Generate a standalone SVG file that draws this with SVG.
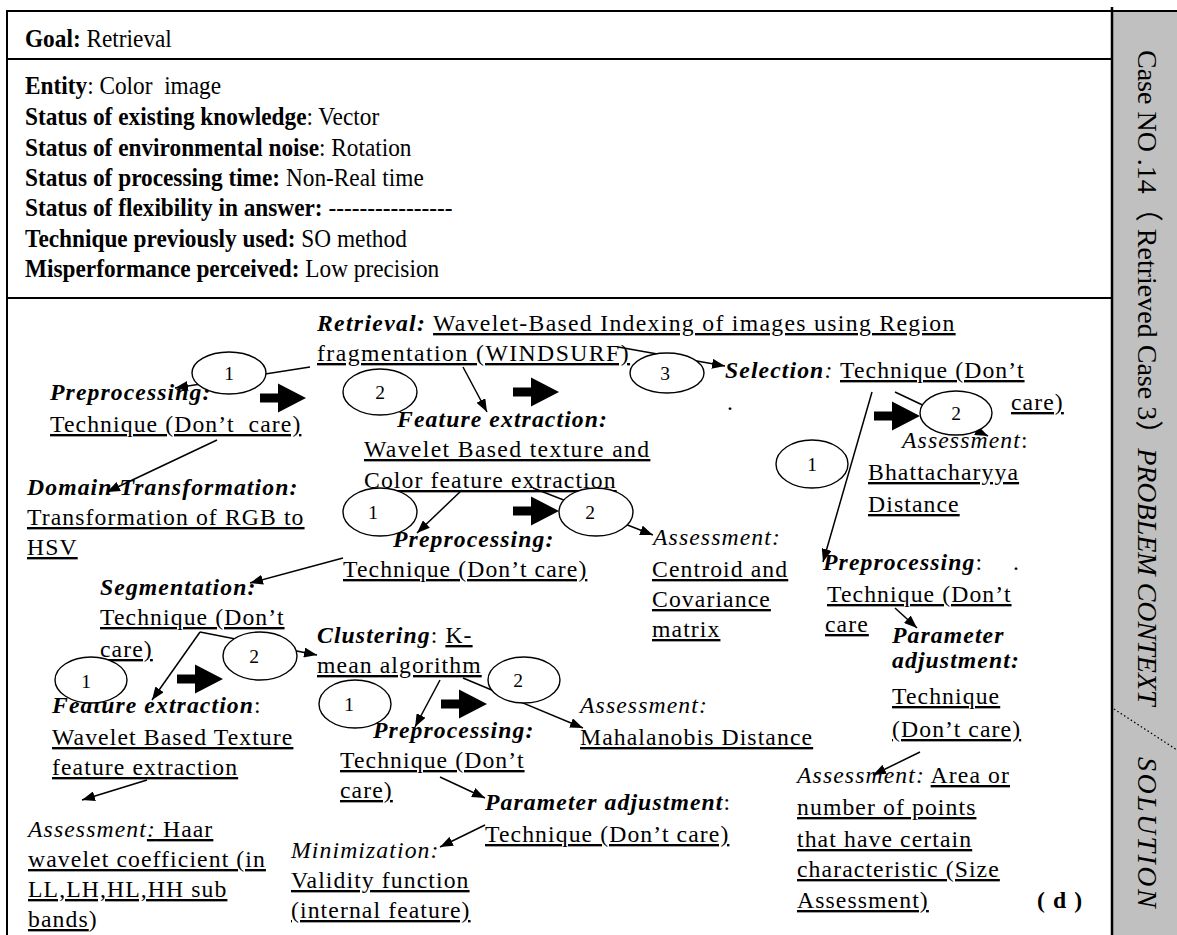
<svg xmlns="http://www.w3.org/2000/svg" xmlns:xlink="http://www.w3.org/1999/xlink" width="1177" height="935" viewBox="0 0 1177 935">
<style>
text{font-family:"Liberation Serif","Times New Roman",serif;fill:#000}
.t{font-size:23.7px;letter-spacing:1.1px}
.top{font-size:23.3px}
.b{font-weight:bold}
.i{font-style:italic}
.bi{font-weight:bold;font-style:italic}
.u{text-decoration:underline}
.n{font-size:19.5px;text-anchor:middle}
.side{font-size:28px;font-family:"Liberation Serif","Noto Sans CJK SC",serif}
.frame{stroke:#000;stroke-width:2;fill:none}
.ell{fill:#fff;stroke:#000;stroke-width:1.4}
.con{stroke:#000;stroke-width:1.5;fill:none;marker-end:url(#ah)}
</style>
<defs>
<marker id="ah" markerUnits="userSpaceOnUse" markerWidth="14" markerHeight="10" refX="13" refY="5" orient="auto"><path d="M0,0 L13,5 L0,10 Z" fill="#000"/></marker>
<path id="blk" d="M-46,-4.5 H-28 V-14.5 L0,0 L-28,14.5 V4.5 H-46 Z" fill="#000"/>
</defs>
<rect width="1177" height="935" fill="#fff"/>
<g id="frame">
<rect x="1113" y="11" width="64" height="924" fill="#c0c0c0"/>
<line class="frame" x1="7" y1="11" x2="1177" y2="11"/>
<line class="frame" x1="7" y1="10" x2="7" y2="935"/>
<line class="frame" x1="7" y1="59" x2="1112" y2="59"/>
<line class="frame" x1="7" y1="298" x2="1112" y2="298"/>
<line x1="1112" y1="7" x2="1112" y2="935" stroke="#000" stroke-width="2.5"/>
<line x1="1114" y1="709" x2="1177" y2="750" stroke="#000" stroke-width="1.3" stroke-dasharray="1.5 2.5"/>
</g>
<g id="side-label">
<text class="side" transform="translate(1138,50) rotate(90)">Case NO .14（ Retrieved Case 3）<tspan class="i">PROBLEM CONTEXT</tspan></text>
<text class="side i" style="letter-spacing:2.4px" transform="translate(1138,757) rotate(90)">SOLUTION</text>
</g>
<g id="problem">
<text class="top" transform="translate(25,47) scale(1,1.1)"><tspan class="b">Goal:</tspan> Retrieval</text>
<text class="top" transform="translate(25,94) scale(1,1.1)"><tspan class="b">Entity</tspan>: Color &#160;image</text>
<text class="top" transform="translate(25,125) scale(1,1.1)"><tspan class="b">Status of existing knowledge</tspan>: Vector</text>
<text class="top" transform="translate(25,156) scale(1,1.1)"><tspan class="b">Status of environmental noise</tspan>: Rotation</text>
<text class="top" transform="translate(25,186) scale(1,1.1)"><tspan class="b">Status of processing time:</tspan> Non-Real time</text>
<text class="top" transform="translate(25,216) scale(1,1.1)"><tspan class="b">Status of flexibility in answer:</tspan> ----------------</text>
<text class="top" transform="translate(25,247) scale(1,1.1)"><tspan class="b">Technique previously used:</tspan> SO method</text>
<text class="top" transform="translate(25,277) scale(1,1.1)"><tspan class="b">Misperformance perceived:</tspan> Low precision</text>
</g>
<g id="connectors">
<line class="con" x1="310" y1="367" x2="175" y2="388"/>
<line class="con" x1="463" y1="367" x2="487" y2="412"/>
<line class="con" x1="618" y1="347" x2="725" y2="366"/>
<line class="con" x1="217" y1="440" x2="107" y2="492"/>
<line class="con" x1="462" y1="490" x2="417" y2="533"/>
<line class="con" x1="533" y1="488" x2="653" y2="535"/>
<line class="con" x1="343" y1="558" x2="250" y2="583"/>
<line class="con" x1="200" y1="632" x2="317" y2="655"/>
<line class="con" x1="200" y1="632" x2="152" y2="700"/>
<line class="con" x1="147" y1="780" x2="82" y2="800"/>
<line class="con" x1="440" y1="680" x2="415" y2="727"/>
<line class="con" x1="463" y1="678" x2="583" y2="728"/>
<line class="con" x1="440" y1="777" x2="485" y2="798"/>
<line class="con" x1="485" y1="825" x2="440" y2="847"/>
<line class="con" x1="872" y1="392" x2="823" y2="562"/>
<line class="con" x1="895" y1="392" x2="988" y2="436"/>
<line class="con" x1="895" y1="608" x2="917" y2="628"/>
<line class="con" x1="920" y1="752" x2="873" y2="775"/>
<use xlink:href="#blk" x="306" y="398"/>
<use xlink:href="#blk" x="559" y="392"/>
<use xlink:href="#blk" x="559" y="511"/>
<use xlink:href="#blk" x="920" y="416"/>
<use xlink:href="#blk" x="223" y="679"/>
<use xlink:href="#blk" x="487" y="704"/>
</g>
<g id="n-retrieval">
<text class="t" x="317" y="331" style="letter-spacing:1.32px"><tspan class="bi">Retrieval:</tspan> <tspan class="u">Wavelet-Based Indexing of images using Region</tspan></text>
<text class="t u" x="317" y="361" style="letter-spacing:1.45px">fragmentation (WINDSURF)</text>
</g>
<g id="n-preprocessing-1">
<text class="t bi" x="50" y="400">Preprocessing:</text>
<text class="t u" x="50" y="432">Technique (Don’t &#160;care)</text>
</g>
<g id="n-domain">
<text class="t bi" x="27" y="495">Domain Transformation:</text>
<text class="t u" x="27" y="525">Transformation of RGB to</text>
<text class="t u" x="27" y="555">HSV</text>
</g>
<g id="n-feature-1">
<text class="t bi" x="397" y="427">Feature extraction:</text>
<text class="t u" x="364" y="457" style="letter-spacing:1.35px">Wavelet Based texture and</text>
<text class="t u" x="364" y="488">Color feature extraction</text>
</g>
<g id="n-selection">
<text class="t" x="725" y="378"><tspan class="bi">Selection</tspan><tspan class="i">:</tspan> <tspan class="u" x="840">Technique (Don’t</tspan></text>
<text class="t u" x="1011" y="410">care)</text>
<text class="t" x="727" y="410">.</text>
</g>
<g id="n-assessment-bh">
<text class="t" x="902" y="448"><tspan class="i">Assessment</tspan>:</text>
<text class="t u" x="868" y="480">Bhattacharyya</text>
<text class="t u" x="868" y="512">Distance</text>
</g>
<g id="n-preprocessing-2">
<text class="t bi" x="393" y="547">Preprocessing:</text>
<text class="t u" x="343" y="577">Technique (Don’t care)</text>
</g>
<g id="n-assessment-cc">
<text class="t i" x="653" y="545">Assessment:</text>
<text class="t u" x="652" y="577">Centroid and</text>
<text class="t u" x="652" y="607">Covariance</text>
<text class="t u" x="652" y="637">matrix</text>
</g>
<g id="n-preprocessing-3">
<text class="t" x="823" y="570"><tspan class="bi">Preprocessing</tspan>:<tspan x="1013">.</tspan></text>
<text class="t u" x="827" y="602">Technique (Don’t</text>
<text class="t u" x="825" y="632">care</text>
</g>
<g id="n-parameter-r">
<text class="t bi" x="892" y="643">Parameter</text>
<text class="t bi" x="892" y="668">adjustment:</text>
<text class="t u" x="892" y="704">Technique</text>
<text class="t u" x="892" y="737">(Don’t care)</text>
</g>
<g id="n-assessment-area">
<text class="t" x="797" y="783"><tspan class="i">Assessment:</tspan> <tspan class="u">Area or</tspan></text>
<text class="t u" x="797" y="815">number of points</text>
<text class="t u" x="797" y="847">that have certain</text>
<text class="t u" x="797" y="877">characteristic (Size</text>
<text class="t u" x="797" y="908">Assessment)</text>
<text class="t b" x="1037" y="908">( d )</text>
</g>
<g id="n-segmentation">
<text class="t bi" x="100" y="595">Segmentation:</text>
<text class="t u" x="100" y="625">Technique (Don’t</text>
<text class="t u" x="100" y="657">care)</text>
</g>
<g id="n-feature-2">
<text class="t" x="52" y="713"><tspan class="bi">Feature extraction</tspan>:</text>
<text class="t u" x="52" y="745">Wavelet Based Texture</text>
<text class="t u" x="52" y="775">feature extraction</text>
</g>
<g id="n-assessment-haar">
<text class="t" x="28" y="837"><tspan class="i">Assessment</tspan><tspan class="i u">:</tspan><tspan class="u"> Haar</tspan></text>
<text class="t u" x="28" y="867">wavelet coefficient (in</text>
<text class="t u" x="28" y="897">LL,LH,HL,HH sub</text>
<text class="t" x="28" y="927"><tspan class="u">bands</tspan>)</text>
</g>
<g id="n-clustering">
<text class="t" x="317" y="643"><tspan class="bi">Clustering</tspan>: <tspan class="u">K-</tspan></text>
<text class="t u" x="317" y="673">mean algorithm</text>
</g>
<g id="n-preprocessing-4">
<text class="t bi" x="373" y="738">Preprocessing:</text>
<text class="t u" x="340" y="768">Technique (Don’t</text>
<text class="t u" x="340" y="798">care)</text>
</g>
<g id="n-assessment-mah">
<text class="t i" x="580" y="713">Assessment:</text>
<text class="t u" x="580" y="745">Mahalanobis Distance</text>
</g>
<g id="n-parameter">
<text class="t" x="485" y="810"><tspan class="bi">Parameter adjustment</tspan>:</text>
<text class="t u" x="485" y="842">Technique (Don’t care)</text>
</g>
<g id="n-minimization">
<text class="t i" x="291" y="858">Minimization:</text>
<text class="t u" x="291" y="888">Validity function</text>
<text class="t u" x="291" y="918">(internal feature)</text>
</g>
<g id="e1"><ellipse class="ell" cx="229" cy="373" rx="37" ry="21"/><text class="n" x="229" y="380">1</text></g>
<g id="e2"><ellipse class="ell" cx="380" cy="392" rx="37" ry="23"/><text class="n" x="380" y="399">2</text></g>
<g id="e3"><ellipse class="ell" cx="667" cy="373" rx="37" ry="20"/><text class="n" x="665" y="380">3</text></g>
<g id="e4"><ellipse class="ell" cx="956" cy="413" rx="36" ry="22"/><text class="n" x="956" y="420">2</text></g>
<g id="e5"><ellipse class="ell" cx="812" cy="464" rx="36" ry="24"/><text class="n" x="812" y="471">1</text></g>
<g id="e6"><ellipse class="ell" cx="380" cy="512" rx="37" ry="24"/><text class="n" x="373" y="519">1</text></g>
<g id="e7"><ellipse class="ell" cx="596" cy="512" rx="37" ry="24"/><text class="n" x="590" y="519">2</text></g>
<g id="e8"><ellipse class="ell" cx="91" cy="680" rx="36" ry="23"/><text class="n" x="86" y="688">1</text></g>
<g id="e9"><ellipse class="ell" cx="260" cy="656" rx="37" ry="24"/><text class="n" x="254" y="663">2</text></g>
<g id="e10"><ellipse class="ell" cx="355" cy="704" rx="36" ry="24"/><text class="n" x="349" y="711">1</text></g>
<g id="e11"><ellipse class="ell" cx="524" cy="680" rx="36" ry="23"/><text class="n" x="518" y="687">2</text></g>
</svg>
